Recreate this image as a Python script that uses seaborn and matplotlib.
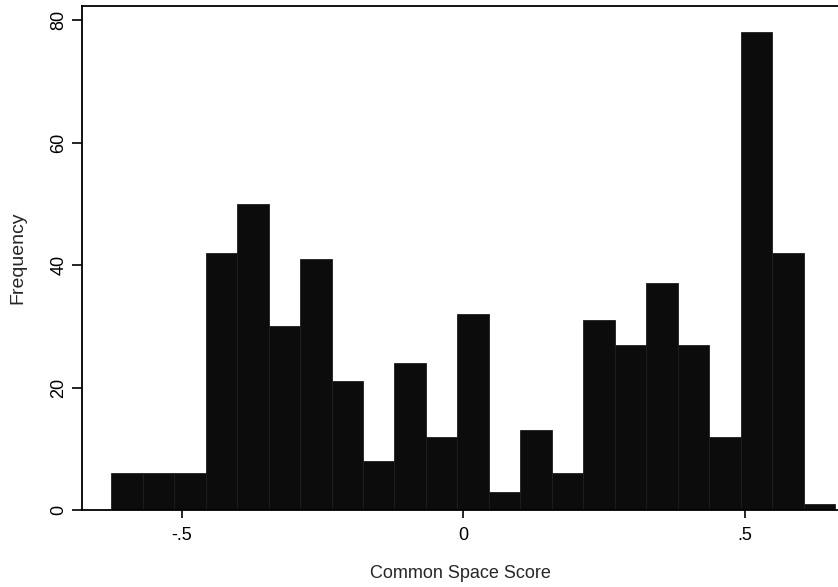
import numpy as np
import pandas as pd
import matplotlib
matplotlib.use("Agg")
import matplotlib.pyplot as plt
import seaborn as sns

# Data
bin_start = -0.625
bin_width = 0.0559
counts = [6, 6, 6, 42, 50, 30, 41, 21, 8, 24, 12, 32, 3, 13, 6, 31, 27, 37, 27, 12, 78, 42, 1]
x_ticks = [-0.5, 0, 0.5]
x_tick_labels = ["-.5", "0", ".5"]
y_ticks = [0, 20, 40, 60, 80]
y_tick_labels = ["0", "20", "40", "60", "80"]

edges = [float(bin_start + bin_width * i) for i in range(len(counts) + 1)]
centers = [(edges[i] + edges[i + 1]) / 2 for i in range(len(counts))]
df = pd.DataFrame({"score": centers, "freq": counts})

sns.set_style("white")
plt.rcParams['font.family'] = ['Liberation Sans', 'DejaVu Sans']

fig = plt.figure(figsize=(8.38, 5.87), dpi=100)
ax = fig.add_axes([82/838, 1 - 510/587, 1 - 82/838, (510 - 6)/587])

sns.histplot(data=df, x="score", weights="freq", bins=edges, ax=ax,
             color="#0c0c0c", alpha=1, edgecolor="#1e1e1e", linewidth=0.6)

ax.set_xlim(-0.677, 0.666)
ax.set_ylim(0, 82.3)
ax.set_xticks(x_ticks)
ax.set_xticklabels(x_tick_labels)
ax.set_yticks(y_ticks)
ax.set_yticklabels(y_tick_labels, rotation=90, va="center")
ax.tick_params(axis="x", direction="out", length=5.5, width=1.2,
               labelsize=13, color="black", labelcolor="black",
               bottom=True, pad=7)
ax.tick_params(axis="y", direction="out", length=7.5, width=1.2,
               labelsize=13, color="black", labelcolor="black",
               left=True, pad=3)
for s in ["left", "bottom", "top"]:
    ax.spines[s].set_visible(True)
    ax.spines[s].set_color("black")
    ax.spines[s].set_linewidth(1.3)
ax.spines["right"].set_visible(False)

ax.set_xlabel("Common Space Score", fontsize=13, labelpad=15)
ax.set_ylabel("Frequency", fontsize=14, labelpad=17)

fig.savefig("out.png", dpi=100)
